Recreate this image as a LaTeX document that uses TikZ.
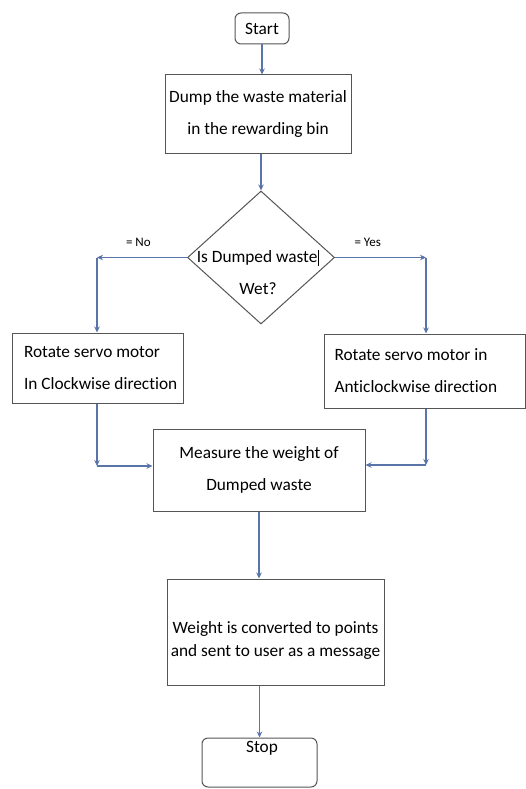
\documentclass[tikz,border=0pt]{standalone}
\usepackage{fontspec}
\setmainfont{Carlito}[Ligatures={NoCommon}]
\usetikzlibrary{shapes.geometric,arrows.meta}
\definecolor{boxline}{RGB}{85,85,85}
\definecolor{arrowline}{RGB}{88,116,168}
\begin{document}
\begin{tikzpicture}[x=1pt,y=-1pt,
  box/.style={draw=boxline, line width=1pt, rectangle, inner sep=0pt, font=\fontsize{17.3}{32}\selectfont},
  roundbox/.style={box, rounded corners=6pt},
  arr/.style={draw=arrowline, line width=1.1pt, -{Stealth[length=6pt,width=5.5pt]}},
  lbl/.style={font=\fontsize{13}{15}\selectfont, inner sep=0pt},
  txt/.style={font=\fontsize{17.3}{32}\selectfont, inner sep=0pt},
]
\useasboundingbox (0,0) rectangle (526,789);
\fill[white] (0,0) rectangle (526,789);
% nodes
\node[roundbox, minimum width=54pt, minimum height=31pt] (start) at (262,28.5) {Start};
\node[box, minimum width=186pt, minimum height=78pt, align=center] (dump) at (258,114) {Dump the waste material\\in the rewarding bin};
\node[diamond, draw=boxline, line width=1pt, minimum width=147pt, minimum height=133pt, inner sep=0pt] (dec) at (261,257.5) {};
\node[txt, align=center] (dectext) at (258,272.5) {Is Dumped waste\kern1pt\rule[-3pt]{0.8pt}{16pt}\\Wet?};
\node[box, minimum width=171pt, minimum height=70pt, align=flush left, text width=147pt] (lbox) at (97.5,368) {\mbox{Rotate servo motor}\\\mbox{In Clockwise direction}};
\node[box, minimum width=201pt, minimum height=74pt, align=flush left, text width=180pt] (rgtbox) at (424.5,371) {Rotate servo motor in\\Anticlockwise direction};
\node[box, minimum width=212pt, minimum height=82pt, align=center] (meas) at (259,470) {Measure the weight of\\Dumped waste};
\node[box, minimum width=217pt, minimum height=106pt, align=center, font=\fontsize{17.3}{23.5}\selectfont] (wt) at (275.5,632) {\rule{0pt}{29pt}Weight is converted to points\\and sent to user as a message};
\node[roundbox, minimum width=115pt, minimum height=49pt] (stop) at (259.5,762.5) {};
\node[txt] (stoptext) at (262,748) {Stop};
% coordinates
\coordinate (cl) at (97,257.5);
\coordinate (cr) at (426,257.5);
\coordinate (ml) at (97,466);
\coordinate (mr) at (426,465);
% connectors
\draw[arr] (start.south) -- (start.south |- dump.north);
\draw[arr] (dec.north |- dump.south) -- (dec.north);
\draw[arr] (dec.west) -- node[lbl, pos=0.54, yshift=15pt] (no) {= No} (cl);
\draw[arr] (cl) -- (cl |- lbox.north);
\draw[arr] (dec.east) -- node[lbl, pos=0.36, yshift=15pt] (yes) {= Yes} (cr);
\draw[arr] (cr) -- (cr |- rgtbox.north);
\draw[arr] (lbox.south -| ml) -- (ml);
\draw[arr] (ml) -- (ml -| meas.west);
\draw[arr] (rgtbox.south -| mr) -- (mr);
\draw[arr] (mr) -- (mr -| meas.east);
\draw[arr] (meas.south) -- (meas.south |- wt.north);
\draw[arr] (stop.north |- wt.south) -- (stop.north);
\end{tikzpicture}
\end{document}
